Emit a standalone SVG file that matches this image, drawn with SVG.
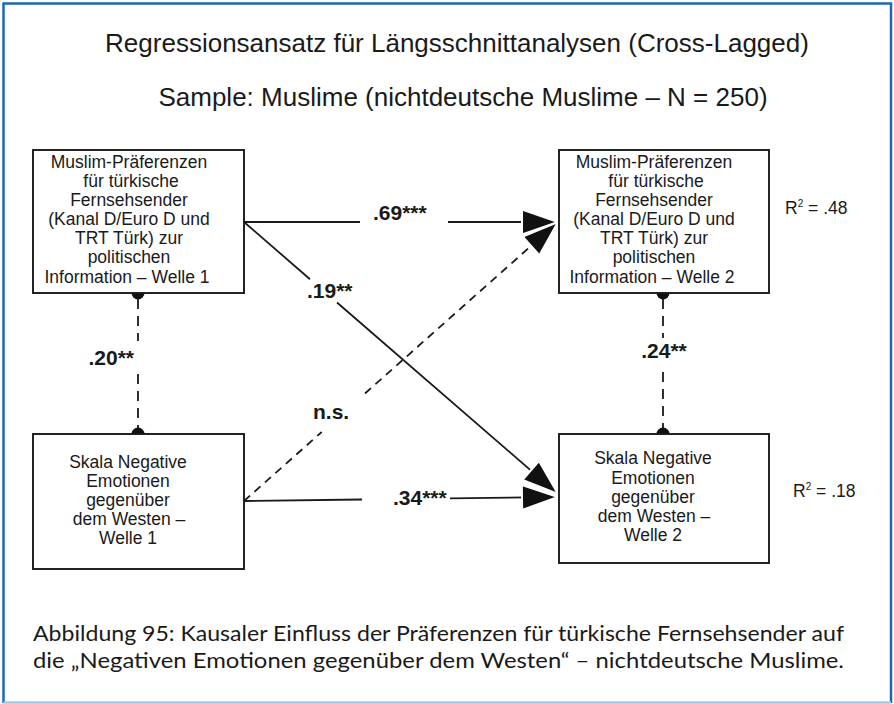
<svg xmlns="http://www.w3.org/2000/svg" width="894" height="704" viewBox="0 0 894 704">
  <style>
    .title { font-family: "Liberation Sans", Arial, sans-serif; font-size: 26px; fill: #1a1a1a; text-anchor: middle; }
    .box { fill: #ffffff; stroke: #1a1a1a; stroke-width: 1.9; }
    .btxt { font-family: "Liberation Sans", Arial, sans-serif; font-size: 17.5px; fill: #1a1a1a; text-anchor: middle; }
    .coef { font-family: "Liberation Sans", Arial, sans-serif; font-size: 21px; font-weight: bold; fill: #1a1a1a; }
    .r2 { font-family: "Liberation Sans", Arial, sans-serif; font-size: 17.5px; fill: #1a1a1a; }
    .edge { fill: none; stroke: #1a1a1a; stroke-width: 1.8; }
    .dash { stroke-dasharray: 8 6; }
    .vdash { fill: none; stroke: #1a1a1a; stroke-width: 1.8; stroke-dasharray: 10 7; }
    .dot { fill: #111111; }
    .caption { font-family: Lato, "Noto Sans", sans-serif; font-size: 22px; fill: #1a1a1a; }
  </style>
  <defs>
    <marker id="head" markerUnits="userSpaceOnUse" markerWidth="40" markerHeight="30" viewBox="-2 -2 40 29" refX="36" refY="12.5" orient="auto">
      <path d="M0,0 L36,12.5 L0,25 Z" fill="#111111" stroke="#ffffff" stroke-width="2" stroke-linejoin="miter"/>
    </marker>
  </defs>

  <rect width="894" height="704" fill="#ffffff"/>
  <!-- frame -->
  <g id="frame" fill="none" stroke-width="2.5">
    <path d="M3.5,703 V3.5 H891 V703" stroke="#1a69b4"/>
    <line x1="3.5" y1="702.5" x2="891" y2="702.5" stroke="#a9c8e6"/>
  </g>

  <!-- headings -->
  <text class="title" x="457" y="52">Regressionsansatz für Längsschnittanalysen (Cross-Lagged)</text>
  <text class="title" x="463" y="106">Sample: Muslime (nichtdeutsche Muslime – N = 250)</text>

  <!-- paths and correlations -->
  <g id="connectors">
    <path class="vdash" d="M138,299 V341 M138,374 V428"/>
    <path class="vdash" d="M663,299 V338 M663,372 V428"/>
    <path class="edge" d="M244,222 H360 M448,222 H558" marker-end="url(#head)"/>
    <path class="edge dash" d="M244,501 L321.7,432 M365,393.5 L558,222" marker-end="url(#head)"/>
    <path class="edge" d="M244,501 L362,499.5 M450,498.4 L558,497" marker-end="url(#head)"/>
    <path class="edge" d="M244,222 L310,279.2 M337,302.5 L558,494" marker-end="url(#head)"/>
    <circle class="dot" cx="138" cy="293" r="6.5"/>
    <circle class="dot" cx="138" cy="434" r="6.5"/>
    <circle class="dot" cx="663" cy="293" r="6.5"/>
    <circle class="dot" cx="663" cy="434" r="6.5"/>
    <text class="coef" x="373" y="220">.69***</text>
    <text class="coef" x="307" y="298">.19**</text>
    <text class="coef" x="313" y="419">n.s.</text>
    <text class="coef" x="393" y="505">.34***</text>
    <text class="coef" x="134" y="365" text-anchor="end">.20**</text>
    <text class="coef" x="664" y="358" text-anchor="middle">.24**</text>
  </g>

  <!-- Welle 1: Präferenzen -->
  <g id="pref1">
    <rect class="box" x="33" y="150" width="211" height="143"/>
    <text class="btxt" x="129" y="168">Muslim-Präferenzen</text>
    <text class="btxt" x="131" y="187">für türkische</text>
    <text class="btxt" x="129" y="206">Fernsehsender</text>
    <text class="btxt" x="129" y="225">(Kanal D/Euro D und</text>
    <text class="btxt" x="129" y="244">TRT Türk) zur</text>
    <text class="btxt" x="129" y="263">politischen</text>
    <text class="btxt" x="127" y="283">Information – Welle 1</text>
  </g>
  <!-- Welle 2: Präferenzen -->
  <g id="pref2">
    <rect class="box" x="559" y="150" width="210" height="143"/>
    <text class="btxt" x="654" y="168">Muslim-Präferenzen</text>
    <text class="btxt" x="656" y="187">für türkische</text>
    <text class="btxt" x="654" y="206">Fernsehsender</text>
    <text class="btxt" x="654" y="225">(Kanal D/Euro D und</text>
    <text class="btxt" x="654" y="244">TRT Türk) zur</text>
    <text class="btxt" x="654" y="263">politischen</text>
    <text class="btxt" x="652" y="283">Information – Welle 2</text>
    <text class="r2" x="785" y="214">R<tspan font-size="10" dy="-7">2</tspan><tspan dy="7"> = .48</tspan></text>
  </g>
  <!-- Welle 1: Emotionen -->
  <g id="emo1">
    <rect class="box" x="33" y="434" width="211" height="135"/>
    <text class="btxt" x="128" y="468">Skala Negative</text>
    <text class="btxt" x="128" y="487">Emotionen</text>
    <text class="btxt" x="128" y="506">gegenüber</text>
    <text class="btxt" x="129" y="525">dem Westen –</text>
    <text class="btxt" x="128" y="544">Welle 1</text>
  </g>
  <!-- Welle 2: Emotionen -->
  <g id="emo2">
    <rect class="box" x="559" y="434" width="210" height="129"/>
    <text class="btxt" x="653" y="464">Skala Negative</text>
    <text class="btxt" x="653" y="484">Emotionen</text>
    <text class="btxt" x="653" y="503">gegenüber</text>
    <text class="btxt" x="654" y="522">dem Westen –</text>
    <text class="btxt" x="653" y="541">Welle 2</text>
    <text class="r2" x="793" y="497">R<tspan font-size="10" dy="-7">2</tspan><tspan dy="7"> = .18</tspan></text>
  </g>

  <!-- caption -->
  <text class="caption" x="33" y="641" textLength="811" lengthAdjust="spacingAndGlyphs">Abbildung 95: Kausaler Einfluss der Präferenzen für türkische Fernsehsender auf</text>
  <text class="caption" x="33" y="668" textLength="811" lengthAdjust="spacingAndGlyphs">die „Negativen Emotionen gegenüber dem Westen“ – nichtdeutsche Muslime.</text>
</svg>
